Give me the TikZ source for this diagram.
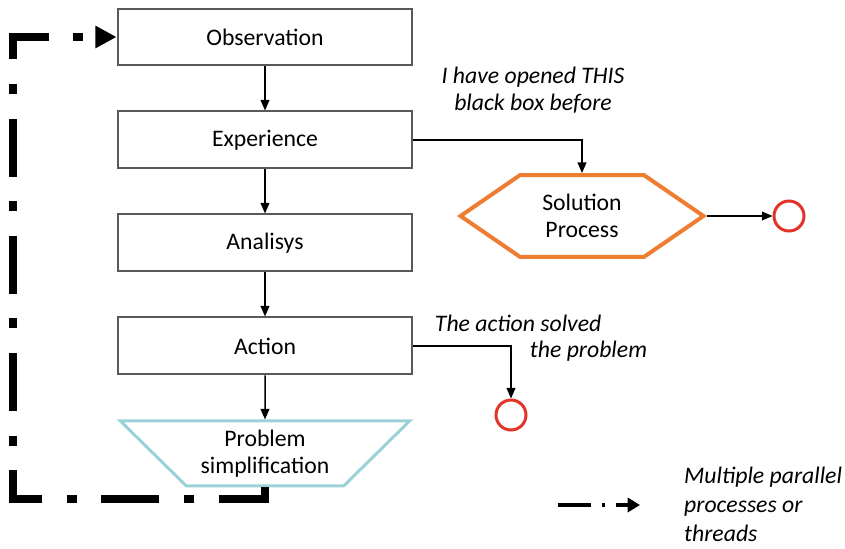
\documentclass[tikz,border=0pt]{standalone}
\usepackage{fontspec}
\setmainfont{Carlito}
\usetikzlibrary{shapes.geometric, shapes.symbols, arrows.meta, positioning}
\definecolor{boxcolor}{RGB}{89, 89, 89}
\definecolor{solcolor}{RGB}{237, 125, 49}
\definecolor{simpcolor}{RGB}{155, 210, 216}
\definecolor{endcolor}{RGB}{228, 52, 40}
\tikzstyle{process} = [rectangle, minimum width=5.9cm, minimum height=1.14cm,
                       text centered, draw=boxcolor, line width=0.4mm]
\tikzstyle{solution} = [signal, signal to=west and east, signal pointer angle=69,
                        minimum width=4.86cm, minimum height=1.64cm, align=center,
                        draw=solcolor, line width=0.8mm]
\tikzstyle{simplify} = [trapezium, trapezium angle=45, shape border rotate=180,
                        trapezium stretches=true, minimum width=5.8cm, minimum height=1.3cm,
                        align=center, draw=simpcolor, line width=0.6mm]
\tikzstyle{stop} = [circle, minimum size=0.6cm, draw=endcolor, line width=0.6mm]
\tikzstyle{note} = [font=\fontsize{13.5pt}{15pt}\selectfont\itshape, align=center]
\tikzstyle{arrow} = [line width=0.3mm, -{Triangle[length=6pt, width=5pt]}]
\tikzstyle{thread} = [line width=4.5pt, dash pattern=on 33pt off 14pt on 5.7pt off 14pt,
                      -{Triangle[length=12pt, width=12pt]}]

\begin{document}
\begin{tikzpicture}[x=0.02cm, y=-0.02cm, font=\fontsize{13.5pt}{15.3pt}\selectfont]
    \useasboundingbox (0,0) rectangle (845,548);

    %Main chain
    \node (obs) [process] at (265,37) {Observation};
    \node (exp) [process, below=0.88cm of obs] {Experience};
    \node (ana) [process, below=0.88cm of exp] {Analisys};
    \node (act) [process, below=0.88cm of ana] {Action};
    \node (simp) [simplify, below=0.88cm of act] {Problem\\simplification};

    %Solution branch
    \node (sol) [solution] at (582,216) {Solution\\Process};
    \node (end1) [stop] at (789,216) {};
    \node (end2) [stop] at (511,415) {};

    %Notes
    \node (noteexp) [note] at (533,90) {I have opened THIS\\black box before};
    \node (noteact) [note, align=left] at (541,338) {The action solved\\\hspace{1.9cm}the problem};

    %Arrows
    \draw [arrow] (obs) -- (exp);
    \draw [arrow] (exp) -- (ana);
    \draw [arrow] (ana) -- (act);
    \draw [arrow] (act) -- (simp);
    \draw [arrow] (exp.east) -| (sol.north);
    \draw [arrow] (sol.east) -- (end1);
    \draw [arrow] (act.east) -| (end2.north);

    %Loop back
    \coordinate (loopbl) at (13,499);
    \draw [thread] (simp.south) |- (loopbl) |- (obs.west);

    %Legend
    \node (legend) [font=\fontsize{13.5pt}{16.5pt}\selectfont\itshape, align=left, anchor=west]
        at (678,504) {Multiple parallel\\processes or\\threads};
    \coordinate (legstart) at (558,505);
    \draw [line width=2pt, dash pattern=on 19pt off 6pt on 2pt off 6pt,
           -{Triangle[length=7pt, width=8pt]}] (legstart) -- (640,505);

\end{tikzpicture}
\end{document}
